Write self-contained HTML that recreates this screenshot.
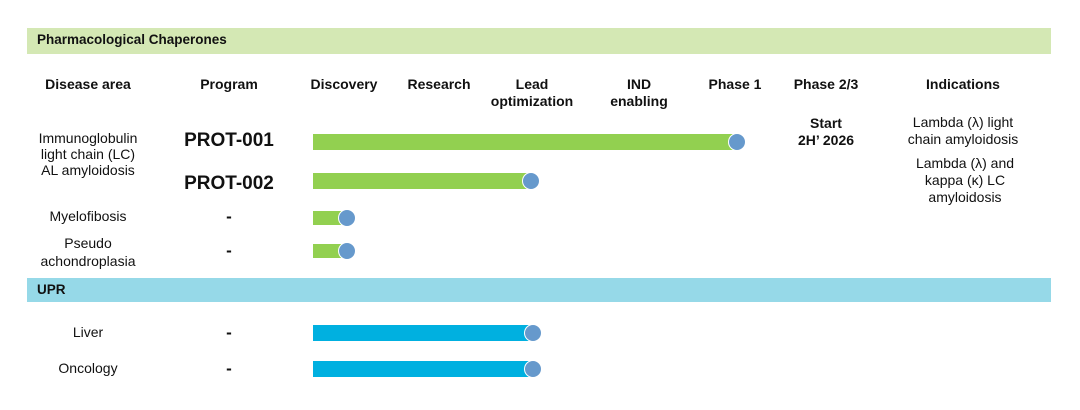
<!DOCTYPE html>
<html><head><style>
body{margin:0;width:1080px;height:410px;background:#fff;position:relative;overflow:hidden;font-family:"Liberation Sans",sans-serif;color:#111}
.a{position:absolute}
.c{position:absolute;text-align:center;transform:translateX(-50%);white-space:nowrap;font-size:14px;line-height:17px}
.h{font-weight:bold}
.bar{position:absolute;height:16px;background:#92d050}
.blue{background:#00b0e0}
.dot{position:absolute;width:16px;height:16px;border-radius:50%;background:#6699cc;border:1px solid #fff;transform:translate(-50%,-50%)}
.p{font-weight:bold;font-size:19px}
.d{font-size:17px}
</style></head><body>
<div class="a" style="left:27px;top:28px;width:1024px;height:26px;background:#d4e8b4"></div>
<div class="a h" style="left:37px;top:32px;font-size:13.5px">Pharmacological Chaperones</div>
<div class="a" style="left:27px;top:278px;width:1024px;height:24px;background:#96d9e8"></div>
<div class="a h" style="left:37px;top:282px;font-size:13.5px">UPR</div>

<div class="c h" style="left:88px;top:76px">Disease area</div>
<div class="c h" style="left:229px;top:76px">Program</div>
<div class="c h" style="left:344px;top:76px">Discovery</div>
<div class="c h" style="left:439px;top:76px">Research</div>
<div class="c h" style="left:532px;top:76px">Lead<br>optimization</div>
<div class="c h" style="left:639px;top:76px">IND<br>enabling</div>
<div class="c h" style="left:735px;top:76px">Phase 1</div>
<div class="c h" style="left:826px;top:76px">Phase 2/3</div>
<div class="c h" style="left:963px;top:76px">Indications</div>

<div class="c" style="left:88px;top:130px;line-height:16px">Immunoglobulin<br>light chain (LC)<br>AL amyloidosis</div>
<div class="c p" style="left:229px;top:132px">PROT-001</div>
<div class="c p" style="left:229px;top:175px">PROT-002</div>
<div class="c" style="left:88px;top:208px">Myelofibosis</div>
<div class="c h d" style="left:229px;top:208px">-</div>
<div class="c" style="left:88px;top:234px;line-height:18px">Pseudo<br>achondroplasia</div>
<div class="c h d" style="left:229px;top:242px">-</div>
<div class="c h" style="left:826px;top:115px">Start<br>2H’ 2026</div>
<div class="c" style="left:963px;top:114px">Lambda (λ) light<br>chain amyloidosis</div>
<div class="c" style="left:965px;top:155px">Lambda (λ) and<br>kappa (κ) LC<br>amyloidosis</div>

<div class="bar" style="left:313px;top:134px;width:424px"></div><div class="dot" style="left:737px;top:142px"></div>
<div class="bar" style="left:313px;top:173px;width:218px"></div><div class="dot" style="left:531px;top:181px"></div>
<div class="bar" style="left:313px;top:211px;width:34px;height:14px"></div><div class="dot" style="left:347px;top:218px"></div>
<div class="bar" style="left:313px;top:244px;width:34px;height:14px"></div><div class="dot" style="left:347px;top:251px"></div>

<div class="c" style="left:88px;top:324px">Liver</div>
<div class="c h d" style="left:229px;top:324px">-</div>
<div class="c" style="left:88px;top:360px">Oncology</div>
<div class="c h d" style="left:229px;top:360px">-</div>
<div class="bar blue" style="left:313px;top:325px;width:220px"></div><div class="dot" style="left:533px;top:333px"></div>
<div class="bar blue" style="left:313px;top:361px;width:220px"></div><div class="dot" style="left:533px;top:369px"></div>
</body></html>
